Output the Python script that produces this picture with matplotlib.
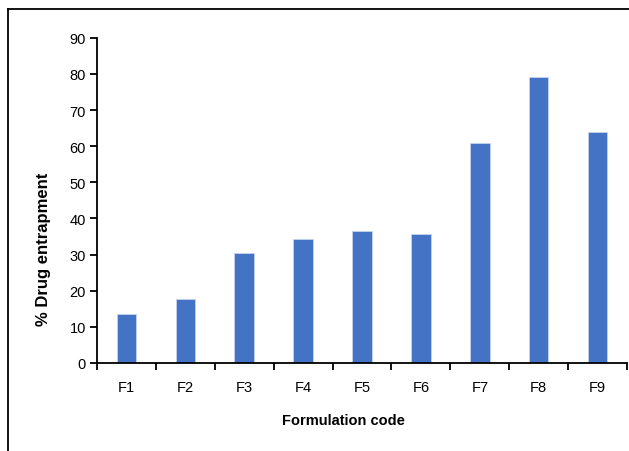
import matplotlib.pyplot as plt
import numpy as np
from matplotlib.lines import Line2D

plt.rcParams['font.family'] = ['Liberation Sans', 'DejaVu Sans']

codes = ['F1', 'F2', 'F3', 'F4', 'F5', 'F6', 'F7', 'F8', 'F9']
entrapment = [13.6, 17.7, 30.3, 34.4, 36.5, 35.7, 60.8, 79.1, 63.9]

fig = plt.figure(figsize=(6.29, 4.52), dpi=100)
ax = fig.add_axes([0.154, 0.195, 0.843, 0.719])

x = np.arange(len(codes))
ax.bar(x, entrapment, width=0.33, color='#4472C4', edgecolor='#c5d3ec', linewidth=0.6)

ax.set_xlim(-0.5, len(codes) - 0.5)
ax.set_ylim(0, 90)
ax.set_yticks(range(0, 91, 10))
ax.set_xticks(x)
ax.set_xticklabels(codes)
ax.set_xticks(np.arange(-0.5, len(codes)), minor=True)
ax.tick_params(axis='x', which='major', length=0, pad=12, labelsize=10.5)
ax.tick_params(axis='x', which='minor', length=5, width=1.3, direction='out')
ax.tick_params(axis='y', length=5, width=1.3, direction='out', labelsize=10.5, pad=3)

for s in ['top', 'right']:
    ax.spines[s].set_visible(False)
for s in ['left', 'bottom']:
    ax.spines[s].set_linewidth(1.3)

ax.set_xlabel('Formulation code', fontsize=10.5, fontweight='bold', labelpad=14)
ax.xaxis.label.set_x(0.465)
ax.set_ylabel('% Drug entrapment', fontsize=12, fontweight='bold', labelpad=13)
ax.yaxis.label.set_y(0.351)

# outer frame (left and top only)
fig.add_artist(Line2D([8 / 629, 8 / 629], [0, 1 - 10 / 452], color='black', lw=1.3, transform=fig.transFigure))
fig.add_artist(Line2D([8 / 629, 1], [1 - 10 / 452, 1 - 10 / 452], color='black', lw=1.3, transform=fig.transFigure))

plt.savefig('out.png', dpi=100)
